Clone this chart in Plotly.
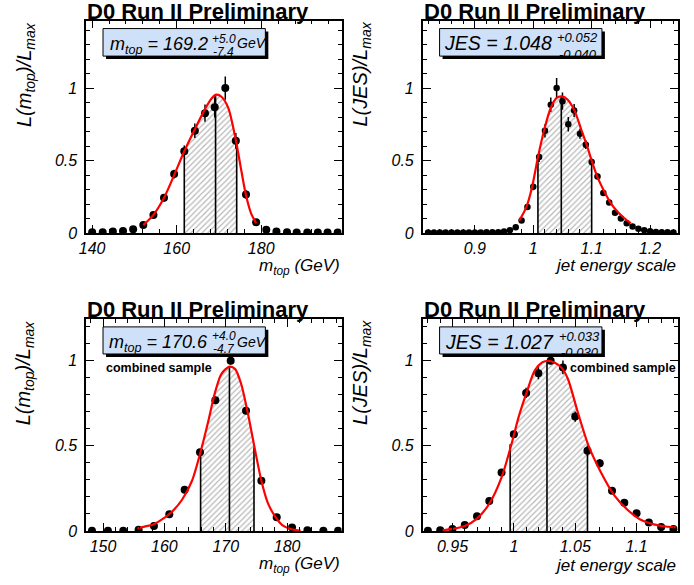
import plotly.graph_objects as go

# ---------------- data ----------------
# Panel A (top-left): likelihood vs m_top (one channel)
a_x = [140.0, 142.5, 144.9, 147.3, 149.7, 152.1, 154.5, 157.0, 159.4, 161.8, 164.3, 166.7, 169.0,
       171.5, 174.0, 176.4, 178.8, 181.2, 183.6, 186.1, 188.4, 190.9, 193.4, 195.7, 198.1]
a_y = [0.005, 0.005, 0.010, 0.015, 0.027, 0.055, 0.125, 0.243, 0.407, 0.564, 0.705, 0.827, 0.868,
       1.000, 0.636, 0.266, 0.075, 0.023, 0.010, 0.005, 0.004, 0.004, 0.004, 0.004, 0.004]
a_err = [0.003, 0.003, 0.004, 0.005, 0.008, 0.012, 0.018, 0.025, 0.030, 0.040, 0.050, 0.060, 0.070,
         0.080, 0.055, 0.030, 0.015, 0.008, 0.004, 0.003, 0.003, 0.003, 0.003, 0.003, 0.003]
a_fit_x = [152.1, 154.5, 157.0, 159.4, 161.8, 164.3, 166.7, 168.3, 169.4, 170.6, 172.2, 174.0,
           175.3, 176.4, 177.6, 178.8]
a_fit_y = [0.055, 0.125, 0.243, 0.400, 0.564, 0.716, 0.855, 0.930, 0.955, 0.940, 0.864, 0.640,
           0.430, 0.260, 0.136, 0.068]
a_band = [161.8, 169.2, 174.2]
a_band_h = [0.564, 0.955, 0.62]

# Panel B (top-right): likelihood vs JES
b_x = [0.82, 0.83, 0.84, 0.85, 0.86, 0.87, 0.88, 0.89, 0.90, 0.91, 0.92, 0.93, 0.94, 0.95, 0.96,
       0.97, 0.98, 0.99, 1.00, 1.01, 1.02, 1.03, 1.04, 1.05, 1.06, 1.07, 1.08, 1.09, 1.10, 1.11,
       1.12, 1.13, 1.14, 1.15, 1.16, 1.17, 1.18, 1.19, 1.20, 1.21, 1.22, 1.23, 1.24]
b_y = [0.004, 0.004, 0.004, 0.004, 0.004, 0.004, 0.004, 0.004, 0.004, 0.004, 0.005, 0.005, 0.006,
       0.010, 0.020, 0.040, 0.086, 0.180, 0.320, 0.525, 0.705, 0.885, 1.000, 0.910, 0.750, 0.845,
       0.685, 0.610, 0.490, 0.390, 0.277, 0.210, 0.140, 0.100, 0.068, 0.045, 0.030, 0.020, 0.013,
       0.008, 0.006, 0.005, 0.004]
b_err = [0.003, 0.003, 0.003, 0.003, 0.003, 0.003, 0.003, 0.003, 0.003, 0.003, 0.003, 0.003, 0.003,
         0.004, 0.005, 0.008, 0.012, 0.018, 0.025, 0.035, 0.045, 0.050, 0.070, 0.060, 0.050, 0.045,
         0.035, 0.030, 0.025, 0.020, 0.015, 0.012, 0.010, 0.008, 0.006, 0.005, 0.004, 0.004, 0.003,
         0.003, 0.003, 0.003, 0.003]
b_fit_x = [0.976, 0.988, 0.998, 1.008, 1.019, 1.030, 1.040, 1.049, 1.059, 1.071, 1.082, 1.093,
           1.100, 1.110, 1.122, 1.133, 1.144, 1.156, 1.167]
b_fit_y = [0.086, 0.177, 0.318, 0.523, 0.716, 0.864, 0.932, 0.943, 0.920, 0.841, 0.716, 0.590,
           0.500, 0.386, 0.284, 0.205, 0.148, 0.102, 0.068]
b_band = [1.008, 1.048, 1.100]
b_band_h = [0.523, 0.943, 0.500]

# Panel C (bottom-left): combined sample, m_top
c_x = [148.2, 150.8, 153.3, 155.8, 158.3, 160.8, 163.3, 165.8, 168.3, 170.8, 173.3, 175.8, 178.3,
       180.8, 183.3, 185.9, 188.3]
c_y = [0.002, 0.002, 0.002, 0.008, 0.030, 0.098, 0.243, 0.463, 0.768, 1.000, 0.707, 0.295, 0.081,
       0.021, 0.004, 0.002, 0.002]
c_err = [0.002, 0.002, 0.002, 0.003, 0.005, 0.008, 0.012, 0.016, 0.020, 0.022, 0.018, 0.012, 0.006,
         0.004, 0.002, 0.002, 0.002]
c_fit_x = [155.6, 156.9, 158.3, 159.6, 161.2, 162.9, 164.5, 166.0, 167.2, 168.2, 169.3, 170.6,
           171.5, 172.5, 173.6, 174.7, 175.8, 176.8, 177.9, 179.2, 180.6, 182.2]
c_fit_y = [0.015, 0.027, 0.040, 0.068, 0.112, 0.185, 0.295, 0.479, 0.652, 0.807, 0.923, 0.965,
           0.952, 0.865, 0.691, 0.488, 0.295, 0.170, 0.093, 0.035, 0.012, 0.002]
c_band = [165.9, 170.6, 174.6]
c_band_h = [0.470, 0.965, 0.490]

# Panel D (bottom-right): combined sample, JES
d_x = [0.93, 0.94, 0.95, 0.96, 0.97, 0.98, 0.99, 1.00, 1.01, 1.02, 1.03, 1.04, 1.05, 1.06, 1.07,
       1.08, 1.09, 1.10, 1.11, 1.12, 1.13]
d_y = [0.002, 0.004, 0.012, 0.035, 0.087, 0.176, 0.344, 0.568, 0.811, 0.927, 1.000, 0.961, 0.672,
       0.471, 0.398, 0.236, 0.166, 0.104, 0.050, 0.023, 0.012]
d_err = [0.002, 0.002, 0.004, 0.006, 0.010, 0.012, 0.015, 0.020, 0.030, 0.035, 0.020, 0.040, 0.030,
         0.030, 0.025, 0.015, 0.010, 0.010, 0.008, 0.006, 0.004]
d_fit_x = [0.942, 0.950, 0.960, 0.970, 0.980, 0.990, 0.998, 1.004, 1.011, 1.017, 1.023, 1.028,
           1.033, 1.039, 1.044, 1.052, 1.061, 1.071, 1.082, 1.093, 1.103, 1.114, 1.125, 1.132]
d_fit_y = [0.004, 0.012, 0.029, 0.073, 0.160, 0.315, 0.508, 0.672, 0.826, 0.942, 0.990, 1.000,
           0.990, 0.958, 0.894, 0.700, 0.498, 0.344, 0.208, 0.122, 0.068, 0.039, 0.025, 0.021]
d_band = [0.997, 1.027, 1.060]
d_band_h = [0.510, 1.000, 0.500]

# tick labels
a_ticks = [140, 160, 180]
a_ticktext = ["140", "160", "180"]
b_ticks = [0.9, 1.0, 1.1, 1.2]
b_ticktext = ["0.9", "1", "1.1", "1.2"]
c_ticks = [150, 160, 170, 180]
c_ticktext = ["150", "160", "170", "180"]
d_ticks = [0.95, 1.0, 1.05, 1.1]
d_ticktext = ["0.95", "1", "1.05", "1.1"]
y_ticks = [0, 0.5, 1]
y_ticktext = ["0", "0.5", "1"]

title_text = "D0 Run II Preliminary"
mtop_title = "m<sub>top</sub> (GeV)"
jes_title = "jet energy scale"
ya_title = "L(m<sub>top</sub>)/L<sub>max</sub>"
yb_title = "L(JES)/L<sub>max</sub>"
combined_text = "combined sample"

FONT = "Liberation Sans, Arial, Helvetica, sans-serif"

W, H = 694, 585


def px(x):
    return x / W


def py(y):
    return 1 - y / H


fig = go.Figure()

panels = [
    dict(ax="x", ay="y", x=a_x, y=a_y, e=a_err, fx=a_fit_x, fy=a_fit_y, band=a_band, bh=a_band_h, ms=8),
    dict(ax="x2", ay="y2", x=b_x, y=b_y, e=b_err, fx=b_fit_x, fy=b_fit_y, band=b_band, bh=b_band_h, ms=6.5),
    dict(ax="x3", ay="y3", x=c_x, y=c_y, e=c_err, fx=c_fit_x, fy=c_fit_y, band=c_band, bh=c_band_h, ms=8),
    dict(ax="x4", ay="y4", x=d_x, y=d_y, e=d_err, fx=d_fit_x, fy=d_fit_y, band=d_band, bh=d_band_h, ms=8),
]

for p in panels:
    lo, c, hi = p["band"]
    hlo, hc, hhi = p["bh"]
    bx = [lo] + [v for v in p["fx"] if lo < v < hi] + [hi]
    by = [hlo] + [w for v, w in zip(p["fx"], p["fy"]) if lo < v < hi] + [hhi]
    fig.add_trace(go.Scatter(
        x=bx, y=by, xaxis=p["ax"], yaxis=p["ay"], mode="lines",
        line=dict(width=0, shape="spline", smoothing=0.8), fill="tozeroy",
        fillcolor="rgba(0,0,0,0)",
        fillpattern=dict(shape="/", fgcolor="#707070", bgcolor="white", size=4, solidity=0.3),
        hoverinfo="skip", showlegend=False))
    fig.add_trace(go.Scatter(
        x=[lo, lo, None, c, c, None, hi, hi], y=[0, hlo, None, 0, hc, None, 0, hhi],
        xaxis=p["ax"], yaxis=p["ay"], mode="lines", line=dict(color="black", width=1.6),
        hoverinfo="skip", showlegend=False))
    fig.add_trace(go.Scatter(
        x=p["x"], y=p["y"], xaxis=p["ax"], yaxis=p["ay"], mode="markers",
        marker=dict(color="black", size=p["ms"]),
        error_y=dict(type="data", array=p["e"], color="black", thickness=1.5, width=0),
        cliponaxis=True, showlegend=False))
    fig.add_trace(go.Scatter(
        x=p["fx"], y=p["fy"], xaxis=p["ax"], yaxis=p["ay"], mode="lines",
        line=dict(color="#ff0000", width=2.2, shape="spline", smoothing=0.8),
        showlegend=False))

# axis geometry (window pixels)
XL = (80, 338)
XR = (420, 678)
YT = (21, 236.7)
YB = (324, 539.3)

tickfont = dict(family=FONT, size=16, color="black", style="italic")


def xaxis(dom, rng, tv, tt, mdt, m0):
    return dict(domain=[px(dom[0]), px(dom[1])], range=rng, tickmode="array", tickvals=tv,
                ticktext=tt, ticks="inside", ticklen=8, tickwidth=1, tickcolor="black",
                showline=True, linecolor="black", linewidth=1.6, mirror="allticks",
                showgrid=False, zeroline=False, tickfont=tickfont, ticklabelstandoff=0,
                minor=dict(tickmode="linear", tick0=m0, dtick=mdt, ticks="inside", ticklen=4,
                           tickcolor="black", tickwidth=1, showgrid=False))


def yaxis(dom, top, anchor):
    return dict(domain=[py(dom[1]), py(dom[0])], range=[0, top], tickmode="array",
                tickvals=y_ticks, ticktext=y_ticktext, ticks="inside", ticklen=8, tickwidth=1,
                tickcolor="black", showline=True, linecolor="black", linewidth=1.6,
                mirror="allticks", showgrid=False, zeroline=False, tickfont=tickfont,
                ticklabelstandoff=4, anchor=anchor,
                minor=dict(tickmode="linear", tick0=0, dtick=0.1, ticks="inside", ticklen=4,
                           tickcolor="black", tickwidth=1, showgrid=False))


fig.update_layout(
    width=W, height=H, margin=dict(l=0, r=0, t=0, b=0),
    paper_bgcolor="white", plot_bgcolor="white", showlegend=False,
    font=dict(family=FONT, color="black"),
    xaxis=dict(xaxis(XL, [138.59, 199.02], a_ticks, a_ticktext, 4, 140), anchor="y"),
    xaxis2=dict(xaxis(XR, [0.8108, 1.2481], b_ticks, b_ticktext, 0.02, 0.8), anchor="y2"),
    xaxis3=dict(xaxis(XL, [147.26, 188.87], c_ticks, c_ticktext, 2, 150), anchor="y3"),
    xaxis4=dict(xaxis(XR, [0.92581, 1.13387], d_ticks, d_ticktext, 0.01, 0.9), anchor="y4"),
    yaxis=yaxis(YT, 1.465, "x"),
    yaxis2=yaxis(YT, 1.465, "x2"),
    yaxis3=yaxis(YB, 1.245, "x3"),
    yaxis4=yaxis(YB, 1.245, "x4"),
)

shapes = []
annos = []


def textbox(x0, y0, x1, y1):
    shapes.append(dict(type="rect", xref="paper", yref="paper", x0=px(x0 + 3), x1=px(x1 + 3),
                       y0=py(y1 + 3), y1=py(y0 + 3), fillcolor="black", line=dict(width=0)))
    shapes.append(dict(type="rect", xref="paper", yref="paper", x0=px(x0), x1=px(x1),
                       y0=py(y1), y1=py(y0), fillcolor="#cfe1f9", line=dict(color="black", width=1)))


def txt(text, x, y, size, xanchor="left", yanchor="middle", italic=True, bold=False, angle=0):
    if italic:
        text = "<i>" + text + "</i>"
    if bold:
        text = "<b>" + text + "</b>"
    annos.append(dict(text=text, x=px(x), y=py(y), xref="paper", yref="paper", xanchor=xanchor,
                      yanchor=yanchor, showarrow=False, textangle=angle,
                      font=dict(family=FONT, size=size, color="black")))


# titles
for x0, yc in [(79, 12), (419, 12), (79, 314.5), (419, 314.5)]:
    txt(title_text, x0, yc, 22, italic=False, bold=True)

# value boxes
textbox(97, 29, 261, 57)
textbox(437, 29, 601, 57)
textbox(97, 332, 261, 359.5)
textbox(437, 332, 601, 359.5)

txt("m<sub>top</sub> = 169.2", 205, 46, 18, xanchor="right")
txt("+5.0", 205, 39.5, 12)
txt("-7.4", 206, 52.5, 12)
txt("GeV", 230, 44, 14)

txt("JES = 1.048", 553, 44, 19.5, xanchor="right")
txt("+0.052", 554, 38.5, 13)
txt("-0.040", 556, 55, 13)

txt("m<sub>top</sub> = 170.6", 205, 349, 18, xanchor="right")
txt("+4.0", 205, 341.5, 12)
txt("-4.7", 206, 354, 12)
txt("GeV", 230, 347, 14)

txt("JES = 1.027", 555, 347, 19.5, xanchor="right")
txt("+0.033", 556, 341.5, 13)
txt("-0.030", 558, 358, 13)

txt(combined_text, 98, 374, 12.5, italic=False, bold=True)
txt(combined_text, 567, 374, 12.5, italic=False, bold=True)

# axis titles
txt(mtop_title, 338, 271, 17, xanchor="right")
txt(jes_title, 678, 270, 17, xanchor="right")
txt(mtop_title, 338, 574, 17, xanchor="right")
txt(jes_title, 678, 574, 17, xanchor="right")

txt(ya_title, 18, 20, 20, xanchor="center", yanchor="top", angle=-90)
txt(yb_title, 358, 20, 20, xanchor="center", yanchor="top", angle=-90)
txt(ya_title, 18, 323, 20, xanchor="center", yanchor="top", angle=-90)
txt(yb_title, 358, 323, 20, xanchor="center", yanchor="top", angle=-90)

fig.update_layout(shapes=shapes, annotations=annos)
# drop the browser's default page margin so the figure fills the window exactly
fig.write_html("out.html", config={"displayModeBar": False},
               post_script="document.body.style.margin='0';document.body.style.overflow='hidden';")
